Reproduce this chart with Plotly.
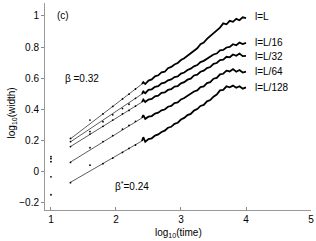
import plotly.graph_objects as go

# thick (dense) part of each curve
x_dense = [2.40, 2.42, 2.45, 2.50, 2.55, 2.60, 2.65, 2.70, 2.75, 2.80, 2.85, 2.90,
           2.95, 3.00, 3.05, 3.10, 3.15, 3.20, 3.25, 3.30, 3.35, 3.40, 3.45, 3.50,
           3.55, 3.60, 3.65, 3.70, 3.75, 3.80, 3.85, 3.90, 3.95, 4.00]
y_L = [0.562, 0.574, 0.562, 0.584, 0.592, 0.611, 0.618, 0.637, 0.641, 0.664, 0.672, 0.688,
       0.697, 0.716, 0.728, 0.745, 0.758, 0.781, 0.792, 0.818, 0.829, 0.852, 0.871, 0.889,
       0.912, 0.925, 0.952, 0.946, 0.968, 0.962, 0.981, 0.972, 0.991, 0.985]
y_L16 = [0.498, 0.514, 0.503, 0.524, 0.528, 0.544, 0.548, 0.566, 0.571, 0.586, 0.592, 0.607,
         0.611, 0.629, 0.636, 0.652, 0.661, 0.676, 0.684, 0.703, 0.711, 0.726, 0.737, 0.752,
         0.758, 0.778, 0.781, 0.797, 0.801, 0.818, 0.811, 0.828, 0.819, 0.826]
y_L32 = [0.446, 0.462, 0.447, 0.462, 0.466, 0.483, 0.487, 0.505, 0.508, 0.524, 0.529, 0.546,
         0.549, 0.566, 0.574, 0.590, 0.596, 0.617, 0.622, 0.641, 0.648, 0.664, 0.671, 0.692,
         0.697, 0.716, 0.719, 0.737, 0.734, 0.752, 0.744, 0.758, 0.741, 0.743]
y_L64 = [0.344, 0.362, 0.338, 0.352, 0.356, 0.372, 0.378, 0.393, 0.398, 0.416, 0.421, 0.439,
         0.444, 0.463, 0.472, 0.486, 0.495, 0.514, 0.521, 0.542, 0.547, 0.568, 0.574, 0.596,
         0.601, 0.624, 0.628, 0.648, 0.643, 0.658, 0.641, 0.652, 0.636, 0.641]
y_L128 = [0.196, 0.220, 0.190, 0.208, 0.213, 0.230, 0.238, 0.254, 0.262, 0.281, 0.287, 0.306,
          0.313, 0.334, 0.344, 0.362, 0.370, 0.391, 0.401, 0.421, 0.428, 0.451, 0.459, 0.481,
          0.494, 0.521, 0.524, 0.547, 0.541, 0.552, 0.538, 0.548, 0.532, 0.540]

# early sparse points
x_sparse = [1.0, 1.3, 1.6, 1.8, 1.95, 2.1, 2.2, 2.3]
s_L = [0.095, 0.212, 0.330, 0.370, 0.418, 0.466, 0.497, 0.530]
s_L16 = [0.082, 0.192, 0.256, 0.320, 0.364, 0.404, 0.432, 0.470]
s_L32 = [0.063, 0.160, 0.240, 0.290, 0.330, 0.370, 0.392, 0.420]
s_L64 = [-0.035, 0.058, 0.153, 0.192, 0.230, 0.272, 0.296, 0.322]
s_L128 = [-0.150, -0.072, 0.040, 0.050, 0.085, 0.122, 0.148, 0.170]

# fitted straight lines
fit_x = [1.3, 2.4]
fit_L = [0.210, 0.562]
fit_L16 = [0.190, 0.498]
fit_L32 = [0.160, 0.446]
fit_L64 = [0.060, 0.344]
fit_L128 = [-0.070, 0.196]

labels = ["l=L", "l=L/16", "l=L/32", "l=L/64", "l=L/128"]
label_y = [0.994, 0.827, 0.737, 0.640, 0.538]

x_ticks = [1, 2, 3, 4, 5]
y_ticks = [-0.2, 0, 0.2, 0.4, 0.6, 0.8, 1]
y_ticktext = ["\u22120.2", "0", "0.2", "0.4", "0.6", "0.8", "1"]

FONT = "Liberation Sans, Arial, sans-serif"

fig = go.Figure()
dense = [y_L, y_L16, y_L32, y_L64, y_L128]
sparse = [s_L, s_L16, s_L32, s_L64, s_L128]
fits = [fit_L, fit_L16, fit_L32, fit_L64, fit_L128]

for f in fits:
    fig.add_trace(go.Scatter(x=fit_x, y=f, mode="lines",
                             line=dict(color="#333333", width=0.8),
                             showlegend=False, hoverinfo="skip"))
for s in sparse:
    fig.add_trace(go.Scatter(x=x_sparse, y=s, mode="markers",
                             marker=dict(color="black", size=1.8),
                             showlegend=False))
for d in dense:
    fig.add_trace(go.Scatter(x=x_dense, y=d, mode="lines",
                             line=dict(color="black", width=1.8),
                             showlegend=False))

for lab, ly in zip(labels, label_y):
    fig.add_annotation(x=4.1, y=ly, text=lab, showarrow=False, xanchor="left",
                       yanchor="middle", font=dict(size=10, color="black", family=FONT))

fig.add_annotation(x=1.06, y=1.0, text="(c)", showarrow=False, xanchor="left",
                   font=dict(size=10, color="black", family=FONT))
fig.add_annotation(x=1.18, y=0.598, text="\u03b2 =0.32", showarrow=False, xanchor="left",
                   font=dict(size=10, color="black", family=FONT))
fig.add_annotation(x=1.95, y=-0.095, text="\u03b2<sup>*</sup>=0.24", showarrow=False,
                   xanchor="left", font=dict(size=10, color="black", family=FONT))

# axis titles
fig.add_annotation(xref="paper", yref="paper", x=0.5, y=-0.11, yanchor="middle",
                   text="log<sub>10</sub>(time)", showarrow=False,
                   font=dict(size=10, color="black", family=FONT))
fig.add_annotation(xref="paper", yref="paper", x=-0.125, y=0.47, xanchor="center",
                   yanchor="middle", textangle=-90,
                   text="log<sub>10</sub>(width)", showarrow=False,
                   font=dict(size=10, color="black", family=FONT))

fig.update_layout(
    width=316, height=241,
    margin=dict(l=45, r=5, t=3, b=31, autoexpand=False),
    paper_bgcolor="white", plot_bgcolor="white",
    font=dict(family=FONT, size=10, color="black"),
    xaxis=dict(range=[0.908, 5], tickvals=x_ticks, ticks="inside", ticklen=3,
               tickcolor="#888888", showline=True, linecolor="#999999", linewidth=1,
               showgrid=False, zeroline=False, automargin=False),
    yaxis=dict(range=[-0.248, 1.083], tickvals=y_ticks, ticktext=y_ticktext,
               ticks="outside", ticklen=3, tickcolor="#888888",
               showline=True, linecolor="#999999", linewidth=1,
               showgrid=False, zeroline=False, automargin=False),
)

fig.write_html("out.html", config={"displayModeBar": False},
               post_script="document.body.style.margin='0';")
